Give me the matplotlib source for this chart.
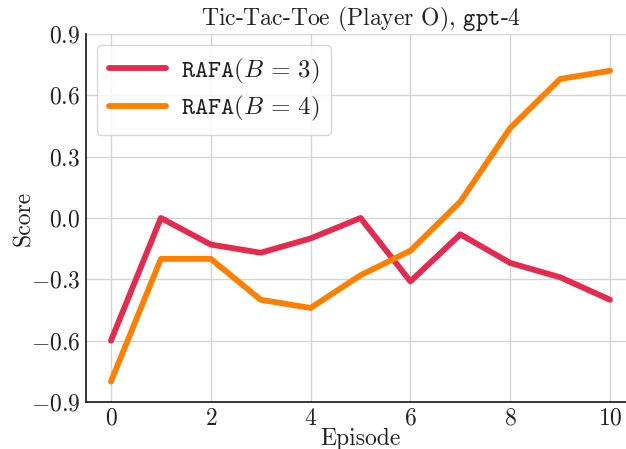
import numpy as np
import matplotlib
matplotlib.use("Agg")
import matplotlib.pyplot as plt

#-values
episodes = np.arange(11)
score_b3 = [-0.60, 0.00, -0.13, -0.17, -0.10, 0.00, -0.31, -0.08, -0.22, -0.29, -0.40]
score_b4 = [-0.80, -0.20, -0.20, -0.40, -0.44, -0.28, -0.16, 0.08, 0.44, 0.68, 0.72]
labels = [r"$\mathtt{RAFA}(B\,=\,3)$", r"$\mathtt{RAFA}(B\,=\,4)$"]
yticks = [-0.9, -0.6, -0.3, 0.0, 0.3, 0.6, 0.9]
xticks = [0, 2, 4, 6, 8, 10]

plt.rcParams["font.family"] = "serif"
plt.rcParams["font.serif"] = ["cmr10"]
plt.rcParams["mathtext.fontset"] = "cm"
plt.rcParams["axes.formatter.use_mathtext"] = True
plt.rcParams["text.color"] = "#222222"
plt.rcParams["axes.labelcolor"] = "#222222"
plt.rcParams["xtick.color"] = "#222222"
plt.rcParams["ytick.color"] = "#222222"

fig = plt.figure(figsize=(6.26, 4.49), dpi=100)
ax = fig.add_axes([0.1374, 0.1047, 0.877, 0.8196])

ax.plot(episodes, score_b3, color="#e6294f", lw=4.2, label=labels[0], solid_capstyle="round")
ax.plot(episodes, score_b4, color="#ff8000", lw=4.2, label=labels[1], solid_capstyle="round")

ax.set_xlim(-0.5, 10.5)
ax.set_ylim(-0.9, 0.9)
ax.set_xticks(xticks)
ax.set_yticks(yticks)
ax.set_yticklabels([f"${v:.1f}$" for v in yticks])
ax.set_xticklabels([f"${v}$" for v in xticks])
ax.tick_params(length=0, labelsize=17, pad=4)

ax.grid(True, color="#d4d4d4", lw=1.0)
ax.set_axisbelow(True)
for s in ["top", "right"]:
    ax.spines[s].set_visible(False)
for s in ["left", "bottom"]:
    ax.spines[s].set_color("#262626")
    ax.spines[s].set_linewidth(1.3)

ax.set_title(r"Tic-Tac-Toe (Player O), $\mathtt{gpt}$-$\mathtt{4}$", fontsize=17, pad=4)
ax.set_xlabel("Episode", fontsize=17, labelpad=-1)
ax.set_ylabel("Score", fontsize=17, labelpad=-3)

leg = ax.legend(loc="upper left", fontsize=18, handlelength=2.3, handletextpad=0.6,
                frameon=True, fancybox=True, borderpad=0.45, labelspacing=0.35,
                borderaxespad=0.45)
leg.get_frame().set_edgecolor("#cccccc")
leg.get_frame().set_linewidth(1.0)

fig.savefig("out.png", dpi=100)
